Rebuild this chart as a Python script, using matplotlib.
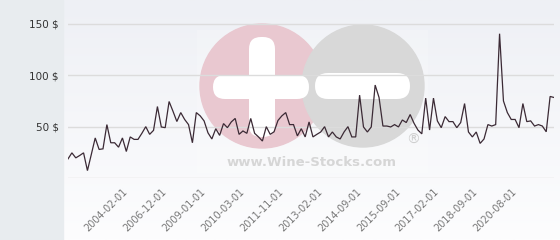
import matplotlib.pyplot as plt
import numpy as np
from matplotlib.patches import Circle, Rectangle, FancyBboxPatch

# Price series (USD)
prices = [
    18.6, 24.5, 19.6, 21.9, 24.5, 7.2, 23, 39, 27.8, 28.4,
    52, 34.3, 34.3, 30, 39, 25.8, 40, 37.6, 37.6, 43.5,
    50, 42.5, 46.4, 69.6, 49.7, 49, 74.5, 65, 55, 63.7,
    57, 52, 34.3, 63.7, 60.5, 55.6, 44, 38, 48, 41.5,
    53, 49, 54.6, 58, 42.5, 45.8, 43.5, 58, 43.5, 40,
    36, 50, 42.5, 45, 56,
    60.5, 63.7, 52, 52, 41, 48, 40, 54.6, 40, 42.5,
    44.8, 50, 40, 44.8, 40, 38, 44.8, 50, 40, 40,
    80.7, 49.7, 44.8, 49.7, 90.5, 78.4, 50.6, 50.6, 49.7, 52,
    49.7, 56.5, 54, 61.8, 53.3, 46.7, 43, 77.8, 46.7, 77.8,
    55.6, 49, 59.8, 54.9, 54.9, 49, 54, 72.5, 44.8, 40,
    44.8, 33.7, 38, 52, 50.6, 52, 140.5, 75, 63.7, 57,
    57, 49, 72.5, 54.9, 55.6, 50.6, 52, 50.6, 45, 79.4,
    78.4,
]
tick_labels = ["2004-02-01", "2006-12-01", "2009-01-01", "2010-03-01",
               "2011-11-01", "2013-02-01", "2014-09-01", "2015-09-01",
               "2017-02-01", "2018-09-01", "2020-08-01"]
label_start = 15
label_every = 10
y_ticks = [0, 50, 100, 150]

W, H = 560, 240
fig = plt.figure(figsize=(W / 100, H / 100), dpi=100)

# background layer in pixel coordinates
bg = fig.add_axes([0, 0, 1, 1], zorder=0)
bg.set_xlim(0, W)
bg.set_ylim(H, 0)
bg.axis("off")
grad = np.linspace(0, 1, 100).reshape(-1, 1)
top = np.array([238, 240, 245]) / 255
bot = np.array([253, 253, 254]) / 255
img = top + (bot - top) * grad[..., None]
bg.imshow(img, extent=[63, W, H, 0], aspect="auto")
bg.add_patch(Rectangle((0, 0), 63, H, color="#e8ecef"))

# watermark
bg.add_patch(Rectangle((197, 30), 231, 143, color="white", alpha=0.2, lw=0))
bg.add_patch(Circle((262, 86), 62, color="#e9c8d0"))
bg.add_patch(Circle((363, 86), 61, color="#d8d8d8"))
bg.add_patch(FancyBboxPatch((213, 75), 96, 24, boxstyle="round,pad=0,rounding_size=12",
                            color="white", lw=0))
bg.add_patch(FancyBboxPatch((249, 37), 26, 100, boxstyle="round,pad=0,rounding_size=12",
                            color="white", lw=0))
bg.add_patch(FancyBboxPatch((315, 73), 95, 26, boxstyle="round,pad=0,rounding_size=13",
                            color="white", lw=0))
bg.text(312, 162, "www.Wine-Stocks.com", fontsize=9.5, fontweight="bold",
        color="#d6d6d6", ha="center", va="center")
bg.text(413, 140, "\u00ae", fontsize=10, color="#cfcfcf", ha="center", va="center")

# main chart
ax = fig.add_axes([68 / W, 1 - 178 / H, (554 - 68) / W, 168 / H], zorder=1)
ax.set_facecolor("none")
x = np.arange(len(prices))
ax.plot(x, prices, color="#3b2a35", lw=0.9, solid_joinstyle="miter")
ax.set_xlim(0, len(prices) - 1)
ax.set_ylim(0, 168 / 1.027)

ax.set_yticks(y_ticks)
ax.set_yticklabels(["" if v == 0 else f"{v} $" for v in y_ticks])
ax.grid(axis="y", color="#dcdcdc", lw=1)
ax.set_axisbelow(True)
ax.tick_params(axis="y", length=0, pad=6.5, labelsize=7.5, labelcolor="#333333")

tick_pos = [label_start + i * label_every for i in range(len(tick_labels))]
ax.set_xticks(tick_pos)
ax.set_xticklabels(tick_labels, rotation=45, ha="right", va="center",
                   rotation_mode="anchor")
ax.tick_params(axis="x", length=0, pad=9, labelsize=7, labelcolor="#777777")
for s in ax.spines.values():
    s.set_visible(False)

fig.savefig("out.png", dpi=100)
